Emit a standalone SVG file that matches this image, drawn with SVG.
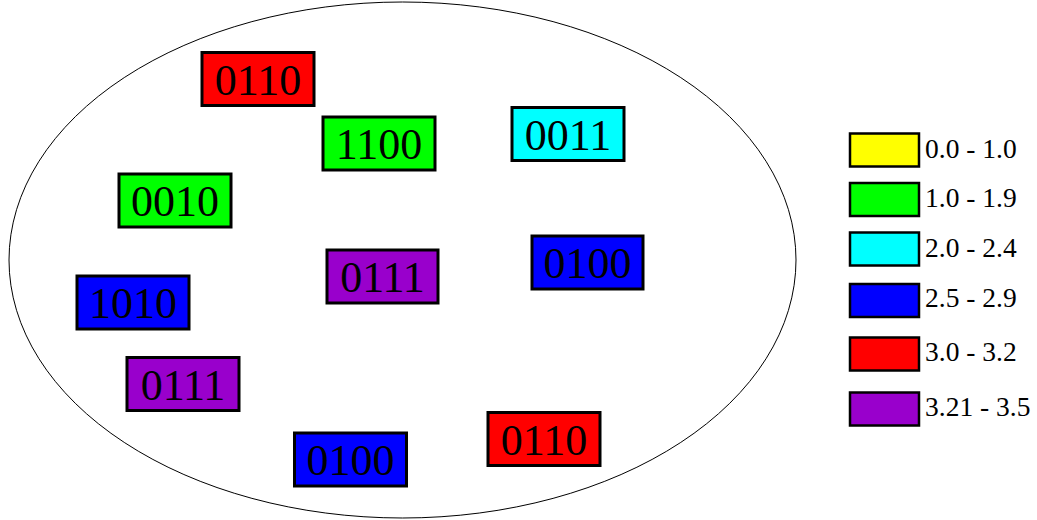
<svg xmlns="http://www.w3.org/2000/svg" width="1037" height="520" viewBox="0 0 1037 520">
<style>
.b{stroke:#000;stroke-width:3}
.l{stroke:#000;stroke-width:2.5}
.t{font-family:"Liberation Serif",serif;font-size:44px;text-anchor:middle;fill:#000}
.lt{font-family:"Liberation Serif",serif;font-size:27.5px;fill:#000}
.r{fill:#ff0000}.g{fill:#00ff00}.c{fill:#00ffff}.u{fill:#0000ff}.p{fill:#9900cc}.y{fill:#ffff00}
</style>
<rect width="1037" height="520" fill="#fff"/>
<g id="set">
<ellipse cx="402.5" cy="260" rx="393.5" ry="258" fill="none" stroke="#000" stroke-width="1"/>
</g>
<g id="n1"><rect class="b r" x="202" y="52.5" width="112" height="53"/><text class="t" x="258" y="95">0110</text></g>
<g id="n2"><rect class="b g" x="323" y="117" width="112" height="53"/><text class="t" x="379" y="159">1100</text></g>
<g id="n3"><rect class="b c" x="512" y="107.5" width="112" height="53"/><text class="t" x="568" y="149.5">0011</text></g>
<g id="n4"><rect class="b g" x="119" y="174" width="112" height="53"/><text class="t" x="175" y="216">0010</text></g>
<g id="n5"><rect class="b p" x="327" y="250" width="111" height="53"/><text class="t" x="382.5" y="292">0111</text></g>
<g id="n6"><rect class="b u" x="532" y="236" width="111" height="53"/><text class="t" x="587.5" y="278">0100</text></g>
<g id="n7"><rect class="b u" x="77" y="276" width="112" height="53"/><text class="t" x="133" y="318">1010</text></g>
<g id="n8"><rect class="b p" x="127" y="357.5" width="112" height="53"/><text class="t" x="183" y="399.5">0111</text></g>
<g id="n9"><rect class="b u" x="294.5" y="433" width="112" height="53"/><text class="t" x="350.5" y="475">0100</text></g>
<g id="n10"><rect class="b r" x="488" y="412.5" width="112" height="53"/><text class="t" x="544" y="454.5">0110</text></g>
<g id="legend">
<rect class="l y" x="850" y="133.5" width="69" height="33"/><text class="lt" x="925" y="157.5">0.0 - 1.0</text>
<rect class="l g" x="850" y="183" width="69" height="33"/><text class="lt" x="925" y="207">1.0 - 1.9</text>
<rect class="l c" x="850" y="232.5" width="69" height="33"/><text class="lt" x="925" y="256.5">2.0 - 2.4</text>
<rect class="l u" x="850" y="284" width="69" height="33"/><text class="lt" x="925" y="307">2.5 - 2.9</text>
<rect class="l r" x="850" y="337.5" width="69" height="33"/><text class="lt" x="925" y="360.5">3.0 - 3.2</text>
<rect class="l p" x="850" y="392.5" width="69" height="33"/><text class="lt" x="925" y="415.5">3.21 - 3.5</text>
</g>
<g id="connectors"></g>
</svg>
